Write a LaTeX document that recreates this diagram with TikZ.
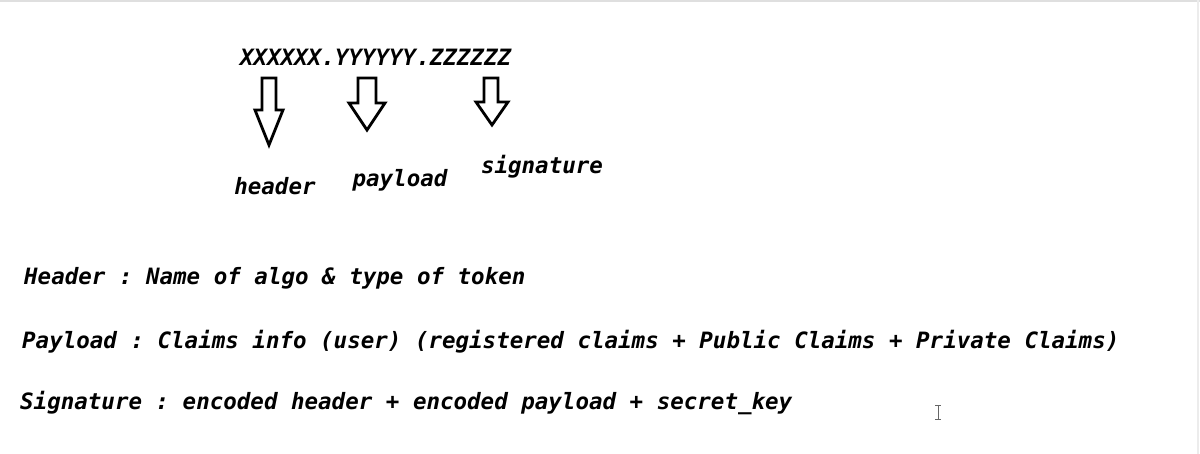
\documentclass[tikz,border=0pt]{standalone}
\usepackage{fontspec}
\setmonofont{DejaVu Sans Mono}
\begin{document}
\begin{tikzpicture}[x=1pt,y=-1pt,
  txt/.style={font=\ttfamily\bfseries\itshape\fontsize{22.5}{24}\selectfont, inner sep=0pt, text height=16pt, text depth=5pt},
  blk/.style={draw=black, line width=2.8pt, fill=white, line join=miter}]
\useasboundingbox[fill=white] (0,0) rectangle (1200,454);
\draw[gray!25, line width=2pt] (0,1) -- (1200,1);
\draw[gray!15, line width=2pt] (1198,0) -- (1198,454);
\node[txt, anchor=west] (tok) at (240,60) {XXXXXX.YYYYYY.ZZZZZZ};
\draw[blk] (262,78) -- (276,78) -- (276,110) -- (283,110) -- (269,145) -- (255,110) -- (262,110) -- cycle;
\draw[blk] (358,78) -- (376,78) -- (376,103) -- (385,103) -- (367,130) -- (349,103) -- (358,103) -- cycle;
\draw[blk] (484,78) -- (498,78) -- (498,102) -- (508,102) -- (492,125) -- (476,102) -- (484,102) -- cycle;
\node[txt] (hd) at (275,189) {header};
\node[txt] (pl) at (400,181) {payload};
\node[txt] (sg) at (542,168) {signature};
\node[txt, anchor=west] (l1) at (24,279) {Header : Name of algo \& type of token};
\node[txt, anchor=west] (l2) at (22,343) {Payload : Claims info (user) (registered claims + Public Claims + Private Claims)};
\node[txt, anchor=west] (l3) at (20,404) {Signature : encoded header + encoded payload + secret\_key};
\draw[gray!80!black, line width=0.8pt] (938,405) -- (938,419) (935,405) -- (941,405) (935,419) -- (941,419);
\end{tikzpicture}
\end{document}
